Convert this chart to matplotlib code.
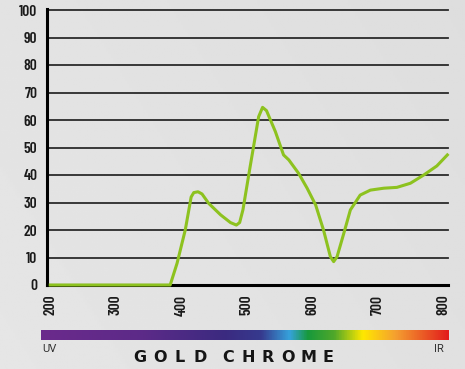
import matplotlib
matplotlib.use("Agg")
import matplotlib.pyplot as plt
import numpy as np
from matplotlib.colors import LinearSegmentedColormap

# Curve (wavelength nm, transmission %)
WAVELENGTH = [200, 383, 393.5, 406, 415, 419, 425.5, 431.6, 441.7, 460, 475, 484,
              489, 494, 505, 518, 524, 530, 543.5, 556, 564, 579, 592, 605, 617,
              627.5, 632.5, 637.7, 648, 658, 673, 688.5, 709, 729, 749.6, 770,
              790, 806]
TRANSMISSION = [0, 0, 7.9, 20, 32, 33.6, 33.9, 33.1, 29.7, 25.5, 22.7, 21.8,
                22.7, 27.3, 43, 61.2, 64.6, 63.4, 55.8, 47.3, 45.5, 40.6, 35.2,
                29.1, 20, 10.3, 8.5, 10.3, 18.8, 27.3, 32.7, 34.5, 35.2, 35.5,
                37, 40, 43.3, 47.3]

Y_TICKS = [0, 10, 20, 30, 40, 50, 60, 70, 80, 90, 100]
X_TICKS = [200, 300, 400, 500, 600, 700, 800]
TITLE = "GOLD CHROME"

SPECTRUM_STOPS = [(0.0, "#6b2a8c"), (0.25, "#5c2a88"), (0.45, "#3b2a80"),
                  (0.54, "#363a8e"), (0.61, "#36a2dc"), (0.655, "#17993c"),
                  (0.72, "#50a82a"), (0.79, "#ffe800"), (0.87, "#f5a030"),
                  (1.0, "#e21c1c")]

TICK_FONT = ["Barlow Condensed", "Roboto Condensed", "DejaVu Sans"]
TITLE_FONT = ["DejaVu Sans"]

W, H = 465, 369
fig = plt.figure(figsize=(W / 100, H / 100), dpi=100)
fig.patch.set_facecolor("#e1e1e1")

# background gradient
bg = fig.add_axes([0, 0, 1, 1], zorder=-10)
gx = np.linspace(0, 1, 200)
grad = 0.89 - 0.02 * gx[None, :] + 0.01 * gx[:, None]
bg.imshow(grad, cmap="gray", vmin=0, vmax=1, aspect="auto", extent=[0, 1, 0, 1])
bg.axis("off")

def px(x0, y0, x1, y1):
    return [x0 / W, 1 - y1 / H, (x1 - x0) / W, (y1 - y0) / H]

ax = fig.add_axes(px(47, 10, 448, 285))
ax.set_facecolor("none")
ax.set_xlim(195, 807)
ax.set_ylim(0, 100)

for v in Y_TICKS[1:]:
    ax.axhline(v, color="#2a2a2a", lw=1.3, zorder=1, clip_on=False)
ax.axhline(0, color="black", lw=2.2, zorder=2, clip_on=False)

ax.plot(WAVELENGTH, TRANSMISSION, color="#8dc21f", lw=2.2, zorder=3,
        solid_joinstyle="round", clip_on=False)

for s in ["top", "right", "bottom"]:
    ax.spines[s].set_visible(False)
ax.spines["left"].set_linewidth(2.2)
ax.spines["left"].set_bounds(0, 100.5)

ax.set_yticks(Y_TICKS)
ax.set_yticklabels([str(v) for v in Y_TICKS], fontfamily=TICK_FONT,
                   fontweight="semibold", fontsize=11, color="#1a1a1a")
ax.set_xticks(X_TICKS)
ax.set_xticklabels([str(v) for v in X_TICKS], rotation=90, fontfamily=TICK_FONT,
                   fontweight="semibold", fontsize=11, color="#1a1a1a")
ax.tick_params(axis="both", length=0)
ax.tick_params(axis="y", pad=7)
ax.tick_params(axis="x", pad=7)

# spectrum bar
cmap = LinearSegmentedColormap.from_list("spec", SPECTRUM_STOPS)
bar = fig.add_axes(px(41, 330, 448, 340))
bar.imshow(np.linspace(0, 1, 512)[None, :], cmap=cmap, aspect="auto")
bar.axis("off")

fig.text(42 / W, 1 - 349 / H, "UV", fontsize=8, color="#333333",
         fontfamily=["Roboto", "DejaVu Sans"], ha="left", va="center")
fig.text(444 / W, 1 - 349 / H, "IR", fontsize=8, color="#333333",
         fontfamily=["Roboto", "DejaVu Sans"], ha="right", va="center")

# letter-spaced title
x = 140
for ch in TITLE:
    if ch == " ":
        x += 8
        continue
    fig.text(x / W, 1 - 358 / H, ch, fontsize=11.5, fontweight="bold",
             fontfamily=TITLE_FONT, color="#151515", ha="center", va="center")
    x += 20

fig.savefig("out.png", dpi=100, facecolor=fig.get_facecolor())
